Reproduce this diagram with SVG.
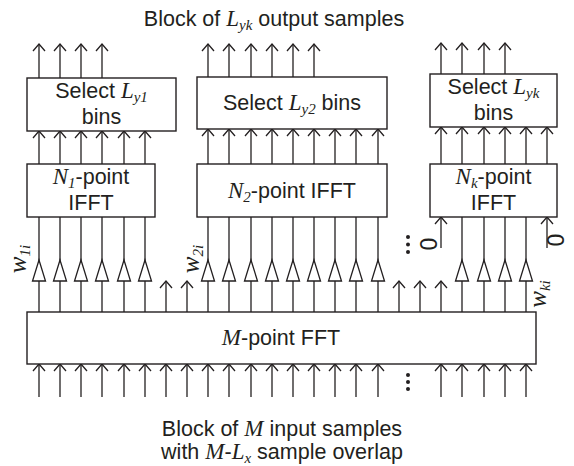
<svg xmlns="http://www.w3.org/2000/svg" width="574" height="466" viewBox="0 0 574 466">
<style>
.ln{stroke:#231f20;stroke-width:1.3;fill:none}
.ar{stroke:#231f20;stroke-width:1.3;fill:none;marker-end:url(#chev)}
.box{fill:#fff;stroke:#231f20;stroke-width:1.4}
.tri{fill:#fff;stroke:#231f20;stroke-width:1.3;stroke-linejoin:miter}
text{font-family:"Liberation Sans",Arial,sans-serif;font-size:21.5px;fill:#231f20}
.m{font-family:"Liberation Serif","Times New Roman",serif;font-style:italic;font-size:23px}
.s{font-family:"Liberation Serif","Times New Roman",serif;font-style:italic;font-size:15px}
.w{font-family:"Liberation Serif","Times New Roman",serif;font-style:italic;font-size:25px}
.z{font-size:23px}
.c{text-anchor:middle}
.dot{fill:#231f20}
</style>
<defs>
<marker id="chev" markerUnits="userSpaceOnUse" orient="auto" refX="0" refY="0" markerWidth="16" markerHeight="16" overflow="visible">
<path d="M-7,-6 L0,0 L-7,6" fill="none" stroke="#231f20" stroke-width="1.3"/>
</marker>
<path id="tr" d="M0,0 L-6.5,21 L6.5,21 Z"/>
</defs>

<g id="connectors">
<!-- outputs -->
<path class="ar" d="M39,78V44"/><path class="ar" d="M60,78V44"/><path class="ar" d="M81,78V44"/><path class="ar" d="M102,78V44"/>
<path class="ar" d="M208,77V44"/><path class="ar" d="M229,77V44"/><path class="ar" d="M251,77V44"/><path class="ar" d="M272,77V44"/><path class="ar" d="M293,77V44"/><path class="ar" d="M314,77V44"/>
<path class="ar" d="M441,74V43"/><path class="ar" d="M462,74V43"/><path class="ar" d="M484,74V43"/><path class="ar" d="M505,74V43"/>
<!-- IFFT to select -->
<path class="ar" d="M39,164V131"/><path class="ar" d="M60,164V131"/><path class="ar" d="M81,164V131"/><path class="ar" d="M102,164V131"/><path class="ar" d="M124,164V131"/><path class="ar" d="M145,164V131"/>
<path class="ar" d="M208,164V129"/><path class="ar" d="M229,164V129"/><path class="ar" d="M251,164V129"/><path class="ar" d="M272,164V129"/><path class="ar" d="M293,164V129"/><path class="ar" d="M314,164V129"/><path class="ar" d="M335,164V129"/><path class="ar" d="M356,164V129"/><path class="ar" d="M378,164V129"/>
<path class="ar" d="M441,164V127"/><path class="ar" d="M462,164V127"/><path class="ar" d="M484,164V127"/><path class="ar" d="M505,164V127"/><path class="ar" d="M526,164V127"/><path class="ar" d="M547,164V127"/>
<!-- FFT to IFFT through gains -->
<path class="ln" d="M39,217V312M60,217V312M81,217V312M102,217V312M124,217V312M145,217V312"/>
<path class="ln" d="M208,217V312M229,217V312M251,217V312M272,217V312M293,217V312M314,217V312M335,217V312M356,217V312M378,217V312"/>
<path class="ln" d="M462,217V312M484,217V312M505,217V312M526,217V312"/>
<!-- zero inputs -->
<path class="ar" d="M441,248V217"/><path class="ar" d="M547,248V217"/>
<!-- unused FFT outputs -->
<path class="ar" d="M166,312V281"/><path class="ar" d="M187,312V281"/><path class="ar" d="M399,312V281"/><path class="ar" d="M420,312V281"/><path class="ar" d="M441,312V281"/>
<!-- inputs -->
<path class="ar" d="M39,397V364"/><path class="ar" d="M60,397V364"/><path class="ar" d="M81,397V364"/><path class="ar" d="M102,397V364"/><path class="ar" d="M124,397V364"/><path class="ar" d="M145,397V364"/><path class="ar" d="M166,397V364"/><path class="ar" d="M187,397V364"/><path class="ar" d="M208,397V364"/><path class="ar" d="M229,397V364"/><path class="ar" d="M251,397V364"/><path class="ar" d="M272,397V364"/><path class="ar" d="M293,397V364"/><path class="ar" d="M314,397V364"/><path class="ar" d="M335,397V364"/><path class="ar" d="M356,397V364"/><path class="ar" d="M378,397V364"/>
<path class="ar" d="M441,397V364"/><path class="ar" d="M462,397V364"/><path class="ar" d="M484,397V364"/><path class="ar" d="M505,397V364"/><path class="ar" d="M526,397V364"/>
</g>

<g id="gains">
<use href="#tr" class="tri" x="39" y="260"/><use href="#tr" class="tri" x="60" y="260"/><use href="#tr" class="tri" x="81" y="260"/><use href="#tr" class="tri" x="102" y="260"/><use href="#tr" class="tri" x="124" y="260"/><use href="#tr" class="tri" x="145" y="260"/>
<use href="#tr" class="tri" x="208" y="260"/><use href="#tr" class="tri" x="229" y="260"/><use href="#tr" class="tri" x="251" y="260"/><use href="#tr" class="tri" x="272" y="260"/><use href="#tr" class="tri" x="293" y="260"/><use href="#tr" class="tri" x="314" y="260"/><use href="#tr" class="tri" x="335" y="260"/><use href="#tr" class="tri" x="356" y="260"/><use href="#tr" class="tri" x="378" y="260"/>
<use href="#tr" class="tri" x="462" y="260"/><use href="#tr" class="tri" x="484" y="260"/><use href="#tr" class="tri" x="505" y="260"/><use href="#tr" class="tri" x="526" y="260"/>
<text transform="translate(26,259) rotate(-90)" class="c"><tspan class="w">w</tspan><tspan class="s" dy="4">1i</tspan></text>
<text transform="translate(199,259) rotate(-90)" class="c"><tspan class="w">w</tspan><tspan class="s" dy="4">2i</tspan></text>
<text transform="translate(546,294) rotate(-90)" class="c"><tspan class="w">w</tspan><tspan class="s" dy="4">ki</tspan></text>
</g>

<g id="sel1"><rect class="box" x="27" y="78" width="149" height="53"/>
<text x="101.5" y="98" class="c">Select <tspan class="m">L</tspan><tspan class="s" dy="4">y1</tspan></text>
<text x="101.5" y="124" class="c">bins</text></g>
<g id="sel2"><rect class="box" x="197" y="77" width="190" height="52"/>
<text x="292" y="110" class="c">Select <tspan class="m">L</tspan><tspan class="s" dy="4">y2</tspan><tspan dy="-4"> bins</tspan></text></g>
<g id="selk"><rect class="box" x="430" y="74" width="127" height="53"/>
<text x="493.5" y="94" class="c">Select <tspan class="m">L</tspan><tspan class="s" dy="4">yk</tspan></text>
<text x="493.5" y="120" class="c">bins</text></g>

<g id="ifft1"><rect class="box" x="27" y="164" width="128" height="53"/>
<text x="91" y="184" class="c"><tspan class="m">N</tspan><tspan class="s" dy="4">1</tspan><tspan dy="-4">-point</tspan></text>
<text x="91" y="210" class="c">IFFT</text></g>
<g id="ifft2"><rect class="box" x="197" y="164" width="190" height="53"/>
<text x="292" y="198" class="c"><tspan class="m">N</tspan><tspan class="s" dy="4">2</tspan><tspan dy="-4">-point IFFT</tspan></text></g>
<g id="ifftk"><rect class="box" x="430" y="164" width="127" height="53"/>
<text x="493.5" y="184" class="c"><tspan class="m">N</tspan><tspan class="s" dy="4">k</tspan><tspan dy="-4">-point</tspan></text>
<text x="493.5" y="210" class="c">IFFT</text></g>

<g id="fft"><rect class="box" x="27" y="312" width="509" height="52"/>
<text x="281" y="345" class="c"><tspan class="m">M</tspan>-point FFT</text></g>

<g id="labels">
<text x="274" y="26" class="c">Block of <tspan class="m">L</tspan><tspan class="s" dy="4">yk</tspan><tspan dy="-4"> output samples</tspan></text>
<text x="282" y="436" class="c">Block of <tspan class="m">M</tspan> input samples</text>
<text x="282" y="459" class="c">with <tspan class="m">M</tspan>-<tspan class="m">L</tspan><tspan class="s" dy="4">x</tspan><tspan dy="-4"> sample overlap</tspan></text>
<text transform="translate(437,244) rotate(-90)" class="c z">0</text>
<text transform="translate(564,240) rotate(-90)" class="c z">0</text>
<circle class="dot" cx="408" cy="237" r="2"/><circle class="dot" cx="408" cy="244.5" r="2"/><circle class="dot" cx="408" cy="252" r="2"/>
<circle class="dot" cx="408" cy="375" r="2"/><circle class="dot" cx="408" cy="382" r="2"/><circle class="dot" cx="408" cy="389" r="2"/>
</g>
</svg>
